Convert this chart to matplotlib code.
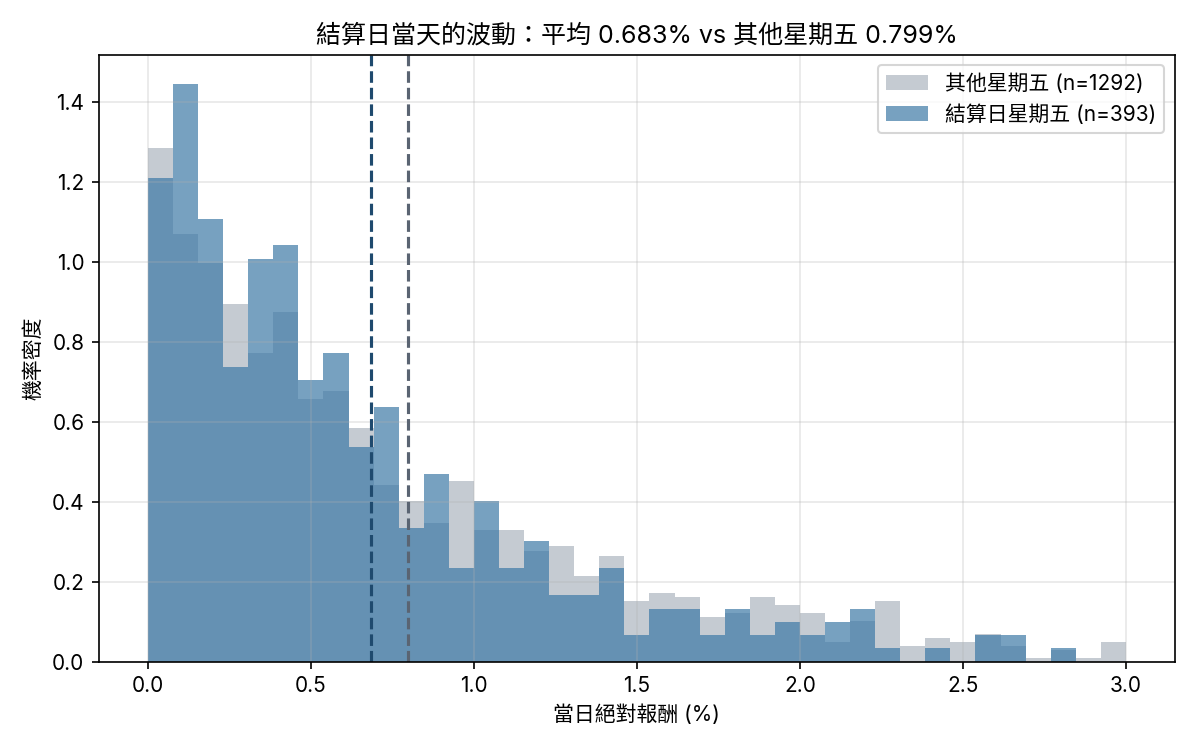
import numpy as np
import matplotlib
matplotlib.use("Agg")
import matplotlib.pyplot as plt

plt.rcParams['font.family'] = ['Inter', 'Noto Sans CJK TC', 'DejaVu Sans']

# 39 bins from 0% to 3%
bin_edges = np.linspace(0, 3, 40)

# density per bin
other_density = [1.285, 1.070, 0.998, 0.895, 0.772, 0.874, 0.657, 0.677, 0.585, 0.442,
                 0.401, 0.347, 0.452, 0.329, 0.329, 0.277, 0.288, 0.214, 0.264, 0.152,
                 0.171, 0.161, 0.111, 0.121, 0.161, 0.141, 0.121, 0.050, 0.101, 0.151,
                 0.040, 0.060, 0.050, 0.070, 0.040, 0.010, 0.030, 0.010, 0.050]
settle_density = [1.210, 1.446, 1.108, 0.738, 1.008, 1.043, 0.705, 0.772, 0.537, 0.637,
                  0.334, 0.469, 0.234, 0.402, 0.234, 0.302, 0.166, 0.166, 0.234, 0.066,
                  0.132, 0.132, 0.066, 0.132, 0.066, 0.099, 0.066, 0.099, 0.132, 0.033,
                  0.0, 0.033, 0.0, 0.066, 0.066, 0.0, 0.033, 0.0, 0.0]

n_other = 1292
n_settle = 393
mean_settle = 0.683
mean_other = 0.799

centers = (bin_edges[:-1] + bin_edges[1:]) / 2

fig, ax = plt.subplots(figsize=(8, 5), dpi=150)
fig.subplots_adjust(left=0.0825, right=0.979, bottom=0.118, top=0.927)

ax.hist(centers, bins=bin_edges, weights=other_density, color='#8c99a6', alpha=0.5,
        label=f'其他星期五 (n={n_other})')
ax.hist(centers, bins=bin_edges, weights=settle_density, color='#3d79a6', alpha=0.7,
        label=f'結算日星期五 (n={n_settle})')

ax.axvline(mean_settle, color='#1f4a6e', linestyle='--', linewidth=1.5)
ax.axvline(mean_other, color='#5a6472', linestyle='--', linewidth=1.5)

ax.set_title(f'結算日當天的波動：平均 {mean_settle:.3f}% vs 其他星期五 {mean_other:.3f}%',
             fontsize=12)
ax.set_xlabel('當日絕對報酬 (%)')
ax.set_ylabel('機率密度')
ax.grid(True, alpha=0.3)
ax.legend(loc='upper right')

fig.savefig('out.png')
